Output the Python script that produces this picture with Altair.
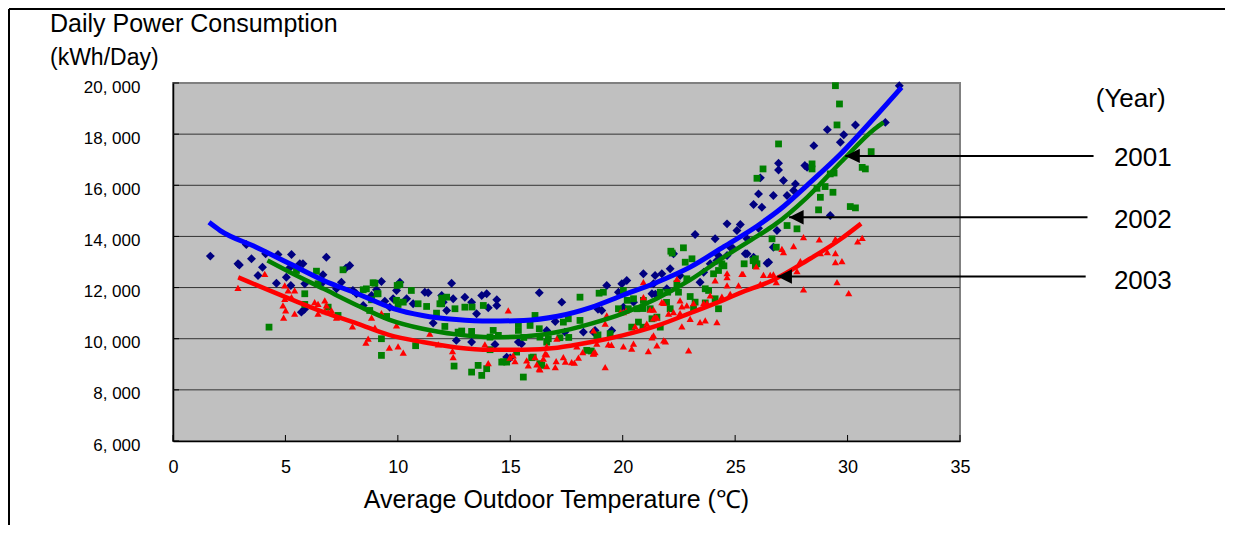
import altair as alt
import pandas as pd

FONT = "Liberation Sans"

x_ticks = [0, 5, 10, 15, 20, 25, 30, 35]
y_ticks = [6000, 8000, 10000, 12000, 14000, 16000, 18000, 20000]
grid_values = [8000, 10000, 12000, 14000, 16000, 18000]

# ---- scatter data ----
x2001 = [1.66, 2.89, 2.95, 3.49, 3.26, 4.12, 4.67, 5.27, 3.98, 3.78, 4.6, 5.04, 5.19, 5.64, 5.78, 5.24, 5.86,
         6.82, 6.67, 7.86, 7.7, 6.6, 7.27, 7.49, 8.0, 8.16, 8.46, 5.71, 5.85, 9.05, 9.27, 8.83, 9.42, 9.79,
         9.94, 9.64, 10.09, 10.39, 11.2, 11.35, 12.39, 11.95, 12.02, 12.46, 12.98, 13.28, 13.73, 13.95, 14.4,
         14.4, 14.02, 13.5, 12.17, 11.57, 10.68, 12.6, 13.28, 14.32, 15.36, 15.5, 16.29, 17.0, 17.29, 17.43,
         18.25, 18.7, 14.84, 15.0, 16.62, 24.64, 25.23, 23.22, 24.11, 25.08, 24.78, 24.9, 22.26, 24.26, 24.64,
         25.53, 23.89, 24.19, 23.6, 23.44, 22.55, 22.11, 21.74, 21.44, 20.92, 20.18, 19.96, 19.29, 21.37,
         21.96, 21.3, 21.45, 20.48, 19.07, 18.9, 19.51, 18.77, 20.03, 19.81, 32.3, 30.35, 31.68, 29.1, 29.83,
         29.68, 28.5, 26.93, 26.93, 28.1, 28.2, 26.12, 27.15, 27.68, 26.04, 26.7, 25.82, 26.19, 27.31, 27.6,
         25.53, 26.04, 26.86, 29.23, 25.45, 26.7, 26.49, 25.82, 26.42]
y2001 = [13230, 12930, 12880, 13125, 13684, 13320, 13293, 13293, 12797, 12473, 12172, 12406, 12773, 12930,
         12930, 12082, 12148, 13188, 12500, 12863, 12770, 12148, 11953, 12211, 11887, 11758, 11300, 11039,
         11150, 11914, 12238, 11692, 11469, 11562, 11887, 11234, 12211, 11562, 11820, 11800, 12172, 11692,
         11430, 11562, 11625, 11430, 11692, 11758, 11523, 11300, 11210, 10977, 11105, 10610, 11367, 9934,
         9867, 9777, 9867, 9800, 11797, 10676, 11430, 10258, 10258, 10258, 9281, 9250, 10324, 14492, 14465,
         14074, 13906, 14230, 13578, 13540, 13320, 13254, 13254, 13320, 12930, 13059, 12602, 12211, 12473,
         12734, 12539, 12473, 12539, 12277, 12148, 12082, 12148, 11953, 11758, 11740, 11430, 11105, 11150,
         10324, 10324, 11234, 11820, 19895, 18359, 18460, 18176, 17980, 17680, 17550, 16860, 16600, 16770,
         16700, 16290, 16184, 16055, 15664, 15598, 15246, 15141, 15598, 15793, 13906, 14320, 14230, 14816,
         13320, 13578, 12992, 13188, 12953]

x2002 = [4.27, 6.38, 7.56, 5.49, 5.86, 5.86, 6.45, 6.9, 7.34, 8.46, 8.6, 8.98, 9.12, 8.83, 8.75, 9.5, 9.27,
         9.27, 10.01, 9.97, 8.9, 10.09, 10.6, 10.79, 12.09, 12.68, 12.5, 13.28, 13.57, 13.73, 13.95, 14.62,
         15.58, 15.36, 15.88, 16.29, 16.1, 15.28, 15.95, 16.32, 11.95, 12.17, 11.72, 11.95, 11.28, 10.24, 9.94,
         9.08, 12.84, 14.24, 14.47, 14.84, 10.9, 11.87, 12.54, 12.98, 13.3, 13.8, 13.28, 15.36, 17.36, 17.58,
         18.1, 18.1, 18.85, 14.1, 14.7, 16.62, 16.69, 16.4, 17.21, 17.6, 18.4, 18.6, 16.02, 14.1, 15.6, 16.32,
         22.7, 22.14, 22.2, 22.78, 23.08, 22.41, 22.85, 22.48, 22.0, 21.67, 20.92, 20.48, 20.2, 20.03, 19.14,
         18.95, 19.81, 20.25, 20.63, 20.9, 21.22, 21.52, 21.3, 20.7, 20.4, 20.9, 21.67, 19.44, 18.9, 23.22,
         23.15, 23.0, 23.67, 23.82, 24.11, 24.26, 23.67, 24.41, 24.5, 24.26, 24.04, 25.9, 25.97, 25.8, 25.4,
         22.11, 21.95, 29.46, 29.64, 29.53, 31.05, 30.65, 30.79, 26.93, 28.42, 28.42, 26.24, 25.97, 29.23,
         29.4, 29.0, 28.64, 29.35, 28.79, 30.12, 30.35, 28.71, 27.75, 27.31, 26.64, 26.83, 25.9]
y2002 = [10453, 12641, 12695, 12668, 11758, 11340, 12148, 11234, 10910, 11914, 11950, 12172, 11758, 11523,
         11105, 10871, 10000, 9348, 11340, 12082, 12187, 12121, 11887, 9727, 10480, 10258, 8930, 8695, 8957,
         8566, 8828, 9086, 8500, 10586, 10520, 10390, 10910, 9477, 9258, 9023, 11586, 11625, 11000, 11367,
         11262, 11430, 11500, 11758, 10300, 10324, 10130, 9086, 11367, 11367, 11172, 11234, 11240, 11300,
         10285, 10324, 10650, 10780, 10715, 11625, 10130, 9570, 9100, 9867, 10000, 8957, 10040, 10050, 9543,
         9520, 9281, 10062, 10050, 10062, 13555, 13422, 13350, 12992, 13125, 12148, 12344, 11820, 11820,
         11820, 11500, 11562, 11500, 11887, 11820, 11780, 11172, 11172, 11172, 11180, 11172, 10844, 10780,
         10650, 10453, 10450, 10453, 10195, 10150, 11430, 11172, 11650, 11953, 11887, 11562, 11172, 11400,
         12930, 12850, 12668, 12539, 13125, 12930, 13050, 12930, 11172, 11420, 19895, 19180, 18360, 17316,
         16700, 16640, 17617, 16836, 16640, 16640, 16274, 16445, 16480, 15950, 15883, 15727, 15530, 15168,
         15117, 15039, 14297, 14426, 13906, 13578, 12863]

x2003 = [2.89, 4.08, 4.97, 5.12, 5.41, 5.27, 4.97, 4.89, 5.01, 4.92, 5.41, 6.3, 6.45, 6.75, 6.82, 6.9, 6.75,
         7.05, 6.45, 7.27, 7.98, 8.83, 9.27, 8.98, 9.94, 8.68, 8.58, 9.62, 10.01, 10.24, 12.43, 12.46, 11.8,
         11.42, 13.87, 14.02, 14.91, 14.98, 15.13, 15.21, 15.73, 15.8, 16.32, 16.62, 16.1, 16.55, 17.07, 17.04,
         17.0, 16.18, 16.29, 16.47, 16.62, 17.36, 17.73, 17.85, 17.45, 18.03, 18.22, 18.7, 17.96, 18.7, 16.62,
         19.22, 18.77, 18.7, 18.85, 19.36, 19.5, 20.03, 20.48, 20.4, 21.14, 21.52, 21.82, 21.9, 21.37, 21.3,
         22.93, 20.55, 21.07, 21.52, 21.45, 21.37, 22.63, 23.0, 23.44, 23.67, 24.19, 22.04, 22.26, 22.55,
         22.63, 22.55, 22.85, 23.15, 23.6, 23.75, 23.89, 24.41, 24.78, 21.74, 21.82, 20.92, 21.22, 21.37,
         20.03, 20.15, 19.9, 19.29, 19.22, 20.92, 22.41, 24.11, 24.64, 24.64, 25.15, 25.3, 24.64, 28.04,
         28.74, 29.46, 30.65, 30.45, 27.6, 27.08, 27.15, 28.79, 29.1, 29.46, 29.46, 29.75, 27.9, 27.75, 25.35,
         26.26, 26.56, 26.7, 26.83, 26.12, 29.53, 28.04, 30.05, 25.94]
y2003 = [11992, 12539, 12082, 11887, 11887, 11625, 11562, 11300, 11105, 10820, 10977, 11430, 11367, 11500,
         11300, 11039, 11080, 11105, 10977, 10820, 10480, 10820, 11000, 10430, 10520, 10000, 9845, 9650, 9700,
         9453, 9516, 9281, 9777, 10195, 9777, 9047, 11105, 9258, 9348, 9125, 9152, 8957, 8800, 8930, 9281,
         9414, 10000, 9125, 8890, 8996, 8828, 9219, 9387, 9281, 9086, 9060, 9100, 9258, 9477, 9414, 9700,
         10324, 9700, 8890, 9477, 9440, 9805, 9777, 9760, 9700, 9805, 9610, 9516, 9740, 9934, 9900, 10130,
         10050, 9543, 10480, 10586, 10820, 10850, 10800, 10480, 10780, 10650, 10715, 10650, 10977, 11039,
         11000, 11262, 11500, 11300, 11390, 11390, 11390, 11690, 11650, 11758, 11430, 11400, 11625, 11133,
         11133, 11039, 11100, 11039, 10910, 10586, 12211, 12344, 12277, 12082, 12406, 12082, 12539, 12560,
         13970, 13880, 13906, 13945, 13810, 13620, 13515, 13383, 13345, 13383, 13345, 12992, 13030, 13030,
         12641, 12539, 12500, 12500, 12520, 12211, 12148, 12211, 11926, 11780, 12824]

# ---- fitted curves ----
cx2001 = [1.6, 2.1, 3.7, 5.2, 6.7, 8.2, 9.8, 11.1, 12.6, 14.1, 15.6, 17.1, 18.6, 20.0, 21.5, 23.0, 24.5,
          26.0, 27.0, 28.2, 29.7, 31.2, 32.4]
cy2001 = [14550, 14230, 13580, 12930, 12280, 11760, 11180, 10910, 10750, 10690, 10715, 10880, 11230, 11700,
          12200, 12800, 13600, 14420, 15060, 16000, 17230, 18650, 19830]
cx2002 = [4.2, 5.2, 6.7, 8.2, 9.6, 11.1, 12.6, 14.1, 15.6, 17.1, 18.6, 20.0, 21.5, 23.0, 24.5, 26.0, 26.7,
          28.2, 29.7, 31.2, 31.6]
cy2002 = [13060, 12600, 11950, 11300, 10750, 10390, 10170, 10060, 10090, 10260, 10590, 10980, 11560, 12300,
          13190, 14020, 14420, 15530, 16900, 18200, 18460]
cx2003 = [2.9, 5.2, 6.7, 8.2, 9.6, 11.1, 12.6, 14.1, 15.6, 17.1, 18.6, 20.0, 21.5, 23.0, 24.5, 25.2, 26.7,
          28.2, 29.7, 30.6]
cy2003 = [12400, 11560, 11040, 10590, 10150, 9870, 9660, 9570, 9570, 9650, 9870, 10130, 10500, 11000, 11520,
          11780, 12300, 13060, 13900, 14500]

# ---- annotation (year labels and arrows) ----
years = ["2001", "2002", "2003"]
arrow_tip_x = [29.9, 27.4, 26.88]
arrow_tip_y = [17150, 14750, 12430]
arrow_end_x = [40.94, 40.67, 40.59]
label_x = [43.13, 43.13, 43.13]
label_y = [17062, 14641, 12238]
year_head = ["(Year)"]
year_head_x = [42.59]
year_head_y = [19367]

xs = alt.Scale(domain=[0, 35], nice=False, zero=False)
ys = alt.Scale(domain=[6000, 20000], nice=False, zero=False)

W, H = 787, 358

x_axis = alt.Axis(values=x_ticks, grid=False, ticks=False, tickSize=0, domainColor="black", domainWidth=1.5,
                  labelFont=FONT, labelFontSize=18, labelColor="black", labelPadding=26,
                  labelBaseline="middle", labelFlush=False,
                  title="Average Outdoor Temperature (℃)", titleFont=FONT, titleFontSize=25,
                  titleFontWeight="normal", titleColor="black", titleX=383, titleY=66,
                  titleBaseline="alphabetic", titleAlign="center")
y_axis = alt.Axis(values=y_ticks, grid=False, ticks=False, tickSize=0, domainColor="black", domainWidth=1.5,
                  labelFont=FONT, labelFontSize=17, labelColor="black", labelPadding=33, labelOffset=4,
                  labelExpr="replace(format(datum.value, ','), ',', ', ')", title=None)


def X(field):
    return alt.X(field, type="quantitative", scale=xs, axis=x_axis)


def Y(field):
    return alt.Y(field, type="quantitative", scale=ys, axis=y_axis)


layers = []

# gridlines
grid_df = pd.DataFrame({"g": grid_values})
layers.append(alt.Chart(grid_df).mark_rule(color="#333333", strokeWidth=1).encode(
    y=Y("g"), x=alt.value(0), x2=alt.value(W)))

# scatter
series_pts = [
    (x2001, y2001, "diamond", "#000080", 80),
    (x2002, y2002, "square", "#008000", 46),
    (x2003, y2003, "triangle-up", "#FF0000", 52),
]
for xv, yv, shp, col, sz in series_pts:
    df = pd.DataFrame({"t": xv, "v": yv})
    layers.append(alt.Chart(df).mark_point(shape=shp, filled=True, color=col, size=sz, opacity=1,
                                           strokeWidth=0).encode(x=X("t"), y=Y("v")))

# curves
series_lines = [
    (cx2001, cy2001, "#0000FF", 5),
    (cx2002, cy2002, "#008000", 4.5),
    (cx2003, cy2003, "#FF0000", 4.5),
]
for xv, yv, col, sw in series_lines:
    df = pd.DataFrame({"t": xv, "v": yv})
    layers.append(alt.Chart(df).mark_line(color=col, strokeWidth=sw, interpolate="monotone").encode(
        x=X("t"), y=Y("v")))

# inward ticks
xt_df = pd.DataFrame({"t": x_ticks})
layers.append(alt.Chart(xt_df).mark_rule(color="black", strokeWidth=1).encode(
    x=X("t"), y=alt.value(H), y2=alt.value(H - 6)))
yt_df = pd.DataFrame({"v": y_ticks})
layers.append(alt.Chart(yt_df).mark_rule(color="black", strokeWidth=1).encode(
    y=Y("v"), x=alt.value(0), x2=alt.value(6)))

# arrows
arr_df = pd.DataFrame({"year": years, "tx": arrow_tip_x, "ty": arrow_tip_y, "ex": arrow_end_x,
                       "lx": label_x, "ly": label_y})
layers.append(alt.Chart(arr_df).mark_rule(color="black", strokeWidth=2).encode(
    x=X("tx"), x2="ex:Q", y=Y("ty")))
layers.append(alt.Chart(arr_df).mark_point(shape="M0,0L2,-1L2,1Z", filled=True, color="black", size=210,
                                           opacity=1, strokeWidth=0).encode(x=X("tx"), y=Y("ty")))
layers.append(alt.Chart(arr_df).mark_text(font=FONT, fontSize=26, color="black", align="center",
                                          baseline="middle").encode(x=X("lx"), y=Y("ly"), text="year:N"))
yh_df = pd.DataFrame({"s": year_head, "x": year_head_x, "y": year_head_y})
layers.append(alt.Chart(yh_df).mark_text(font=FONT, fontSize=26, color="black", align="center",
                                         baseline="middle").encode(x=X("x"), y=Y("y"), text="s:N"))

# chart titles (y-axis caption)
t1 = pd.DataFrame({"s": ["Daily Power Consumption"]})
layers.append(alt.Chart(t1).mark_text(font=FONT, fontSize=25, color="black", align="left",
                                      baseline="alphabetic").encode(
    x=alt.value(-123), y=alt.value(-51), text="s:N"))
t2 = pd.DataFrame({"s": ["(kWh/Day)"]})
layers.append(alt.Chart(t2).mark_text(font=FONT, fontSize=23, color="black", align="left",
                                      baseline="alphabetic").encode(
    x=alt.value(-123), y=alt.value(-18), text="s:N"))

# figure frame (top and left edges)
fr = pd.DataFrame({"k": [0]})
layers.append(alt.Chart(fr).mark_rule(color="black", strokeWidth=2).encode(
    x=alt.value(-164), x2=alt.value(1052), y=alt.value(-74)))
layers.append(alt.Chart(fr).mark_rule(color="black", strokeWidth=2).encode(
    x=alt.value(-164), y=alt.value(-74), y2=alt.value(442)))

chart = alt.layer(*layers).properties(
    width=W, height=H,
    autosize=alt.AutoSizeParams(type="none"),
    padding={"left": 165, "top": 75, "right": 266, "bottom": 92},
    background="white",
).configure_view(fill="#C0C0C0", stroke="#808080", strokeWidth=2)

chart.save("out.html", embed_options={"renderer": "svg", "actions": False})
